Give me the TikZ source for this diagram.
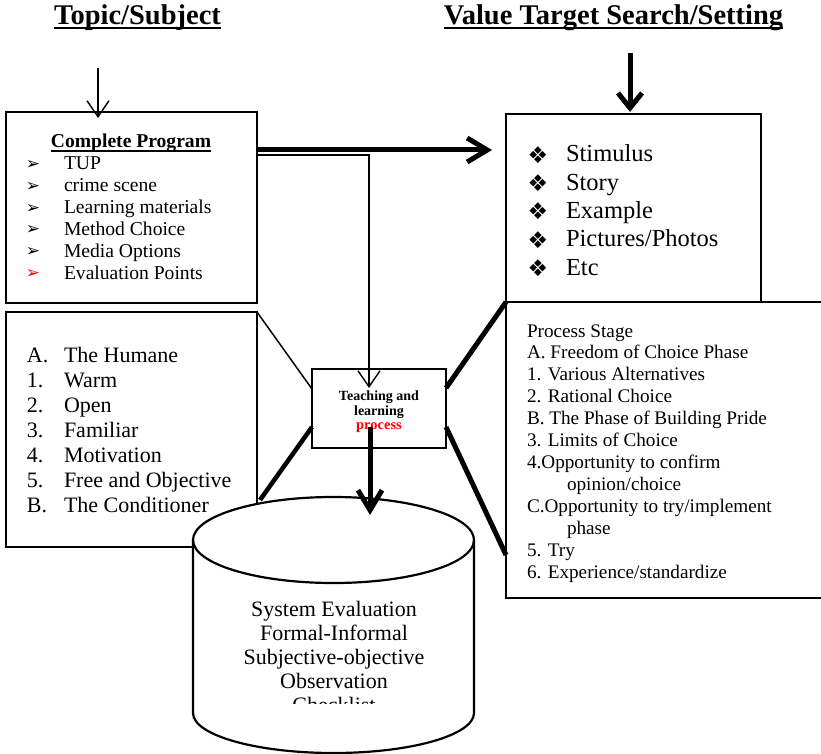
\documentclass[tikz,border=0pt]{standalone}
\usepackage{fontspec}
\setmainfont{Liberation Serif}
\newfontfamily\symfont{DejaVu Sans}
\usetikzlibrary{arrows.meta}
\begin{document}
\begin{tikzpicture}[x=1pt,y=-1pt,
  box/.style={draw, line width=2pt, outer sep=0pt, inner sep=0pt, fill=white, anchor=north west},
  txt/.style={inner sep=0pt, outer sep=0pt, anchor=base west},
  ctxt/.style={inner sep=0pt, outer sep=0pt, anchor=base},
  sym/.style={inner sep=0pt, outer sep=0pt, anchor=center},
  titlef/.style={font=\fontsize{28.5}{30}\selectfont\bfseries},
  cpf/.style={font=\fontsize{19.6}{22}\selectfont},
  procf/.style={font=\fontsize{19.2}{22}\selectfont},
  leftf/.style={font=\fontsize{22}{25}\selectfont},
  stimf/.style={font=\fontsize{24.5}{28}\selectfont},
  cylf/.style={font=\fontsize{22}{24}\selectfont},
  thinline/.style={line width=1.4pt},
  thickline/.style={line width=5pt},
  cylline/.style={line width=2.2pt},
  ularrow/.style={-{Straight Barb[length=16pt,width=22pt]}}
]
\path[use as bounding box] (0,0) rectangle (821,754);
\clip (0,0) rectangle (821,754);

% titles
\node[ctxt, titlef] (t1) at (137.5,25) {Topic/Subject};
\draw[line width=1.8pt] ([yshift=-3.3pt]t1.base west) -- ([yshift=-3.3pt]t1.base east);
\node[ctxt, titlef] (t2) at (613.5,25) {Value Target Search/Setting};
\draw[line width=1.8pt] ([yshift=-3.3pt]t2.base west) -- ([yshift=-3.3pt]t2.base east);

% boxes
\node[box, minimum width=251pt, minimum height=191pt] (cp) at (6,112) {};
\node[box, minimum width=251pt, minimum height=235pt] (lb) at (6,312) {};
\node[box, minimum width=255pt, minimum height=188pt] (stim) at (506,114) {};
\node[box, minimum width=330pt, minimum height=296pt] (proc) at (506,302) {};

% top arrows
\coordinate (a1) at (98,68);
\coordinate (a2) at (630,53);
\draw[thinline, ularrow] (a1) -- ([xshift=92pt,yshift=-6pt]cp.north west);
\draw[thickline, -{Straight Barb[length=15pt,width=24pt]}] (a2) -- ([xshift=124pt,yshift=2pt]stim.north west);

% Complete Program content
\node[ctxt, font=\fontsize{19.6}{22}\selectfont\bfseries] (cpt) at (131,148) {Complete Program};
\draw[line width=1.3pt] ([yshift=-3pt]cpt.base west) -- ([yshift=-3pt]cpt.base east);
\foreach \t [count=\i] in {TUP, crime scene, Learning materials, Method Choice, Media Options, Evaluation Points} {
  \pgfmathsetmacro{\yb}{170+21.8*(\i-1)}
  \node[txt, cpf] (cpi\i) at (64,\yb) {\t};
}
\foreach \i in {1,...,5} {
  \pgfmathsetmacro{\yb}{165+21.8*(\i-1)}
  \node[sym, font=\symfont\fontsize{17}{18}\selectfont] (cpb\i) at (33,\yb) {➢};
}
\node[sym, font=\symfont\fontsize{17}{18}\selectfont, text=red] (cpb6) at (33,274) {➢};

% Stimulus content
\foreach \t [count=\i] in {Stimulus, Story, Example, Pictures/Photos, Etc} {
  \pgfmathsetmacro{\yb}{162+28.3*(\i-1)}
  \pgfmathsetmacro{\yc}{155+28.3*(\i-1)}
  \node[txt, stimf] (st\i) at (566,\yb) {\t};
  \node[sym, font=\symfont\fontsize{23}{24}\selectfont] (sb\i) at (538,\yc) {❖};
}

% Left box content
\foreach \l/\t [count=\i] in {A./The Humane, 1./Warm, 2./Open, 3./Familiar, 4./Motivation, 5./Free and Objective, B./The Conditioner} {
  \pgfmathsetmacro{\yb}{362+25*(\i-1)}
  \node[txt, leftf] (ll\i) at (27,\yb) {\l};
  \node[txt, leftf] (lt\i) at (64,\yb) {\t};
}

% Process content
\node[txt, procf] (p1) at (527,337) {Process Stage};
\node[txt, procf] (p2) at (527,358.9) {A. Freedom of Choice Phase};
\node[txt, procf] (p3) at (527,380.8) {1. Various Alternatives};
\node[txt, procf] (p4) at (527,402.7) {2. Rational Choice};
\node[txt, procf] (p5) at (527,424.6) {B. The Phase of Building Pride};
\node[txt, procf] (p6) at (527,446.5) {3. Limits of Choice};
\node[txt, procf] (p7) at (527,468.4) {4.Opportunity to confirm};
\node[txt, procf] (p8) at (567,490.3) {opinion/choice};
\node[txt, procf] (p9) at (527,512.2) {C.Opportunity to try/implement};
\node[txt, procf] (p10) at (567,534.1) {phase};
\node[txt, procf] (p11) at (527,556) {5. Try};
\node[txt, procf] (p12) at (527,578) {6. Experience/standardize};

% Teaching box
\node[box, minimum width=134pt, minimum height=79pt] (tl) at (312,369) {};
\node[ctxt, font=\fontsize{14}{14}\selectfont\bfseries] (tl1) at (379,400.7) {Teaching and};
\node[ctxt, font=\fontsize{14}{14}\selectfont\bfseries] (tl2) at (379,415) {learning};
\node[ctxt, font=\fontsize{14.5}{14}\selectfont\bfseries, text=red] (tl3) at (379,429.3) {process};

% connectors
\draw[thickline, -{Straight Barb[length=20pt,width=24pt]}] ([yshift=-38pt]cp.north east) -- ([xshift=-14pt,yshift=-36pt]stim.north west);
\draw[thinline, ularrow] ([yshift=-43pt]cp.north east) -| ([xshift=-10pt,yshift=-19pt]tl.north);
\draw[line width=1.5pt] (lb.north east) -- ([yshift=-20pt]tl.north west);
\draw[line width=4.5pt] ([xshift=3pt,yshift=-188pt]lb.north east) -- ([yshift=-58pt]tl.north west);
\draw[thickline] (proc.north west) -- ([yshift=-19pt]tl.north east);
\draw[thickline] ([yshift=-58pt]tl.north east) -- ([yshift=-253pt]proc.north west);

% cylinder
\coordinate (cyltop) at (333.5,497);
\path[fill=white] (193,540) -- (193,713) .. controls (193,735.1) and (255.9,753) .. (333.5,753) .. controls (411.1,753) and (474,735.1) .. (474,713) -- (474,540) -- cycle;
\draw[cylline, fill=white] (333.5,540) ellipse [x radius=140.5, y radius=43];
\draw[cylline] (193,540) -- (193,713) .. controls (193,735.1) and (255.9,753) .. (333.5,753) .. controls (411.1,753) and (474,735.1) .. (474,713) -- (474,540);
\node[ctxt, cylf] (c1) at (334,616) {System Evaluation};
\node[ctxt, cylf] (c2) at (334,640) {Formal-Informal};
\node[ctxt, cylf] (c3) at (334,664) {Subjective-objective};
\node[ctxt, cylf] (c4) at (334,688) {Observation};
\begin{scope}
\clip (193,600) rectangle (474,703.5);
\node[ctxt, cylf] (c5) at (334,712) {Checklist};
\end{scope}

% arrow into cylinder
\coordinate (cyltip) at (370,515);
\draw[thickline, -{Straight Barb[length=20pt,width=24pt]}] ([xshift=-9pt,yshift=-58pt]tl.north) -- (cyltip);
\end{tikzpicture}
\end{document}
